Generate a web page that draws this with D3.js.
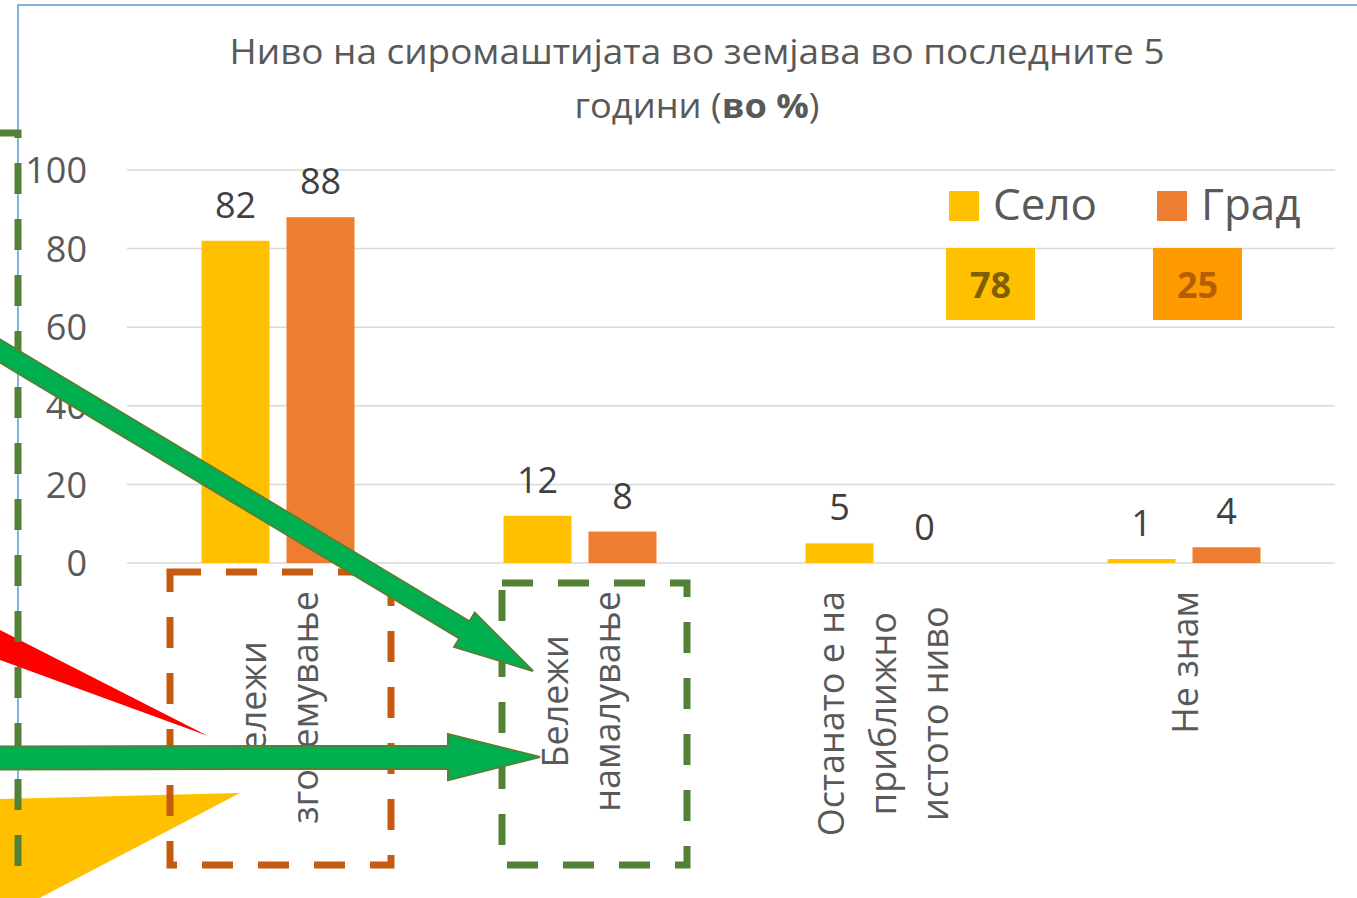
<!DOCTYPE html>
<html>
<head>
<meta charset="utf-8">
<script src="https://cdn.jsdelivr.net/npm/d3@7"></script>
<style>
  body { margin: 0; background: #fff; }
  text { font-family: "Open Sans", "Noto Sans", sans-serif; }
</style>
</head>
<body>
<div id="chart"></div>
<script>
// data
var categories = [
  ['Бележи', 'зголемување'],
  ['Бележи', 'намалување'],
  ['Останато е на', 'приближно', 'истото ниво'],
  ['Не знам']
]
var seriesNames = ['Село', 'Град']
var selo = [82, 12, 5, 1]
var grad = [88, 8, 0, 4]
var yTicks = [0, 20, 40, 60, 80, 100]
var calloutValues = [78, 25]

var width = 1357, height = 898
var colors = { 'Село': '#FFC000', 'Град': '#ED7D31' }

var svg = d3.select('#chart').append('svg').attr('width', width).attr('height', height)
svg.append('rect').attr('width', width).attr('height', height).attr('fill', '#fff')

var keys = categories.map(function(d) { return d.join(' ') })
var x0 = d3.scaleBand().domain(keys).range([127, 1335])
var x1 = d3.scaleBand().domain(seriesNames).range([0, 153]).paddingInner(0.2)
var y = d3.scaleLinear().domain([0, 100]).range([563, 170])
var groupOff = (x0.bandwidth() - 153) / 2

// chart border (cropped)
svg.append('path').attr('d', 'M18,' + height + ' L18,5 L' + width + ',5')
  .attr('fill', 'none').attr('stroke', '#5B9BD5').attr('stroke-width', 1.5)

// grid
svg.append('g').selectAll('line').data(yTicks).join('line')
  .attr('x1', 127).attr('x2', 1335)
  .attr('y1', d => y(d)).attr('y2', d => y(d))
  .attr('stroke', '#D9D9D9').attr('stroke-width', 1.5)

var yAxis = svg.append('g').attr('transform', 'translate(87,0)')
  .call(d3.axisLeft(y).tickValues(yTicks).tickSize(0).tickPadding(0))
yAxis.select('.domain').remove()
yAxis.selectAll('text').attr('font-size', 36).attr('fill', '#595959')
  .attr('font-family', '"Open Sans", sans-serif').attr('dy', '0.35em')

// bars
var rows = []
keys.forEach(function(k, i) {
  rows.push({ cat: k, s: 'Село', v: selo[i] })
  rows.push({ cat: k, s: 'Град', v: grad[i] })
})
svg.append('g').selectAll('rect').data(rows).join('rect')
  .attr('x', d => x0(d.cat) + groupOff + x1(d.s))
  .attr('width', x1.bandwidth())
  .attr('y', d => y(d.v))
  .attr('height', d => y(0) - y(d.v))
  .attr('fill', d => colors[d.s])

svg.append('g').selectAll('text').data(rows).join('text')
  .attr('x', d => x0(d.cat) + groupOff + x1(d.s) + x1.bandwidth() / 2)
  .attr('y', d => y(d.v) - 23)
  .attr('text-anchor', 'middle')
  .attr('font-size', 36).attr('fill', '#404040')
  .text(d => d.v)

// category labels, rotated, block top at y=591
var lineGap = 52
categories.forEach(function(lines, i) {
  var cx = x0(keys[i]) + x0.bandwidth() / 2 + 4
  var g = svg.append('g')
  var t = g.selectAll('text').data(lines).join('text')
    .attr('text-anchor', 'middle')
    .attr('font-size', 36).attr('fill', '#595959')
    .text(d => d)
  var maxLen = d3.max(t.nodes(), n => n.getComputedTextLength())
  var cy = 591 + maxLen / 2
  t.attr('transform', function(d, j) {
    var lx = cx + (j - (lines.length - 1) / 2) * lineGap + 10
    return 'translate(' + lx + ',' + cy + ') rotate(-90)'
  })
})

// title
var title = svg.append('text').attr('text-anchor', 'middle').attr('fill', '#595959').attr('font-size', 34)
title.append('tspan').attr('x', 697).attr('y', 64)
  .attr('textLength', 935).attr('lengthAdjust', 'spacingAndGlyphs')
  .text('Ниво на сиромаштијата во земјава во последните 5')
var t2 = svg.append('text').attr('text-anchor', 'middle').attr('fill', '#595959').attr('font-size', 34)
  .attr('x', 697).attr('y', 118).attr('textLength', 245).attr('lengthAdjust', 'spacingAndGlyphs')
t2.append('tspan').text('години (')
t2.append('tspan').attr('font-weight', 'bold').text('во %')
t2.append('tspan').text(')')

// legend
var legX = [949, 1157]
seriesNames.forEach(function(s, i) {
  svg.append('rect').attr('x', legX[i]).attr('y', 191).attr('width', 30).attr('height', 30).attr('fill', colors[s])
  svg.append('text').attr('x', legX[i] + 44).attr('y', 220).attr('font-size', 44).attr('fill', '#595959').text(s)
})

// callout boxes
var boxFill = ['#FFC000', '#FF9A00']
var boxText = ['#7F6000', '#B45F06']
var boxX = [946, 1153]
calloutValues.forEach(function(v, i) {
  svg.append('rect').attr('x', boxX[i]).attr('y', 248).attr('width', 89).attr('height', 72).attr('fill', boxFill[i])
  svg.append('text').attr('x', boxX[i] + 44.5).attr('y', 298).attr('text-anchor', 'middle')
    .attr('font-size', 36).attr('font-weight', 'bold').attr('fill', boxText[i]).text(v)
})

// overlay shapes
svg.append('polygon').attr('points', '240,793 -100,801.5 -100,971').attr('fill', '#FFC000')
svg.append('polygon').attr('points', '208,736 -100,579 -100,623.5').attr('fill', '#FF0000')

function dashBox(x, y0, w, h, c) {
  svg.append('rect').attr('x', x).attr('y', y0).attr('width', w).attr('height', h)
    .attr('fill', 'none').attr('stroke', c).attr('stroke-width', 7)
    .attr('stroke-dasharray', '31 25')
}
dashBox(-400, 133, 418, 733, '#538135')
dashBox(170, 572, 221, 293, '#C55A11')
dashBox(502, 583, 185, 282, '#538135')

function arrow(ax, ay, bx, by, w, hw, hl) {
  var len = Math.hypot(bx - ax, by - ay)
  var ux = (bx - ax) / len, uy = (by - ay) / len
  var nx = -uy, ny = ux
  var px = bx - ux * hl, py = by - uy * hl
  var pts = [
    [ax + nx * w, ay + ny * w], [px + nx * w, py + ny * w], [px + nx * hw, py + ny * hw],
    [bx, by],
    [px - nx * hw, py - ny * hw], [px - nx * w, py - ny * w], [ax - nx * w, ay - ny * w]
  ]
  svg.append('polygon').attr('points', pts.map(p => p.join(',')).join(' '))
    .attr('fill', '#00B050').attr('stroke', '#538135').attr('stroke-width', 2)
}
arrow(-60, 315, 533, 671, 10, 20, 80)
arrow(-60, 758, 540, 757, 11.5, 23, 92)
</script>
</body>
</html>
